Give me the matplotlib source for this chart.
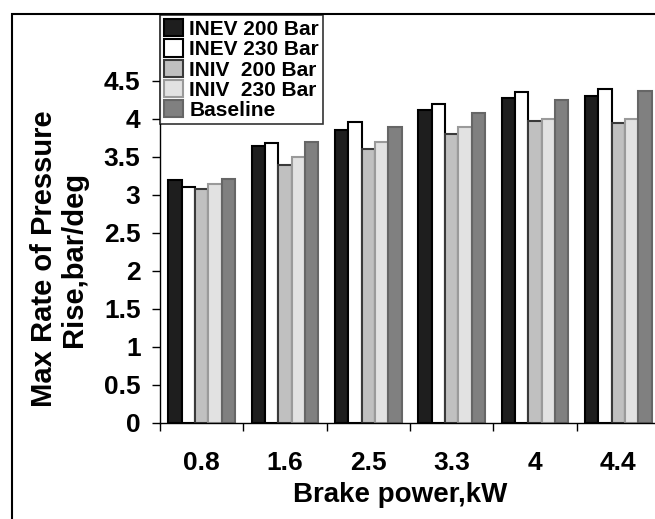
import matplotlib.pyplot as plt
import numpy as np
from matplotlib.patches import Rectangle

# Dados do gráfico
categorias = ['0.8', '1.6', '2.5', '3.3', '4', '4.4']
inev_200 = [3.20, 3.65, 3.86, 4.12, 4.28, 4.30]
inev_230 = [3.10, 3.68, 3.96, 4.20, 4.35, 4.39]
iniv_200 = [3.08, 3.40, 3.61, 3.80, 3.97, 3.95]
iniv_230 = [3.15, 3.50, 3.70, 3.90, 4.00, 4.00]
baseline = [3.21, 3.70, 3.90, 4.08, 4.25, 4.37]

series = [
    ('INEV 200 Bar', inev_200, '#1e1e1e', '#000000'),
    ('INEV 230 Bar', inev_230, '#ffffff', '#000000'),
    ('INIV  200 Bar', iniv_200, '#c0c0c0', '#3a3a3a'),
    ('INIV  230 Bar', iniv_230, '#e2e2e2', '#9a9a9a'),
    ('Baseline', baseline, '#808080', '#666666'),
]

plt.rcParams['font.family'] = ['Liberation Sans', 'DejaVu Sans']
plt.rcParams['font.weight'] = 'bold'

fig = plt.figure(figsize=(6.55, 5.19), dpi=100)
ax = fig.add_axes([160 / 655, 1 - 423 / 519, 500 / 655, (423 - 15) / 519])

x = np.arange(len(categorias))
largura = 0.16
for i, (nome, valores, cor, borda) in enumerate(series):
    ax.bar(x + (i - 2) * largura, valores, largura, color=cor, edgecolor=borda,
           linewidth=1.5, label=nome)

ax.set_xlim(-0.5, len(categorias) - 0.5)
ax.set_ylim(0, 408 / 76)
ax.set_yticks(np.arange(0, 4.51, 0.5))
ax.set_yticklabels(['0', '0.5', '1', '1.5', '2', '2.5', '3', '3.5', '4', '4.5'])
ax.set_xticks(x)
ax.set_xticklabels(categorias)
ax.set_xticks(np.arange(-0.5, len(categorias), 1), minor=True)
ax.tick_params(axis='x', which='major', length=0, pad=20, labelsize=19)
ax.tick_params(axis='x', which='minor', length=6, width=1, direction='out')
ax.tick_params(axis='y', length=6, width=1, direction='out', pad=8, labelsize=19)
for s in ['top', 'right']:
    ax.spines[s].set_visible(False)
ax.spines['left'].set_linewidth(1)
ax.spines['bottom'].set_linewidth(1)

ax.set_xlabel('Brake power,kW', fontsize=20, fontweight='bold')
ax.xaxis.set_label_coords((400 - 160) / 500, (423 - 482) / 408)
ax.set_ylabel('Max Rate of Pressure\nRise,bar/deg', fontsize=21, fontweight='bold',
              linespacing=1.1)
ax.yaxis.set_label_coords((88 - 160) / 500, (423 - 259) / 408)

leg = ax.legend(loc='upper left', bbox_to_anchor=(0, 1.0), borderaxespad=0,
                fancybox=False, frameon=True, edgecolor='black',
                handlelength=0.9, handleheight=0.9, handletextpad=0.3,
                labelspacing=0.02, borderpad=0.2, prop={'weight': 'bold', 'size': 15})
leg.get_frame().set_linewidth(1.2)

# Moldura da figura
fig.patches.append(Rectangle((12 / 655, -0.1), 1.2, 1 - 14 / 519 + 0.1,
                             transform=fig.transFigure, fill=False,
                             edgecolor='black', linewidth=1.5))

fig.savefig('out.png', dpi=100)
